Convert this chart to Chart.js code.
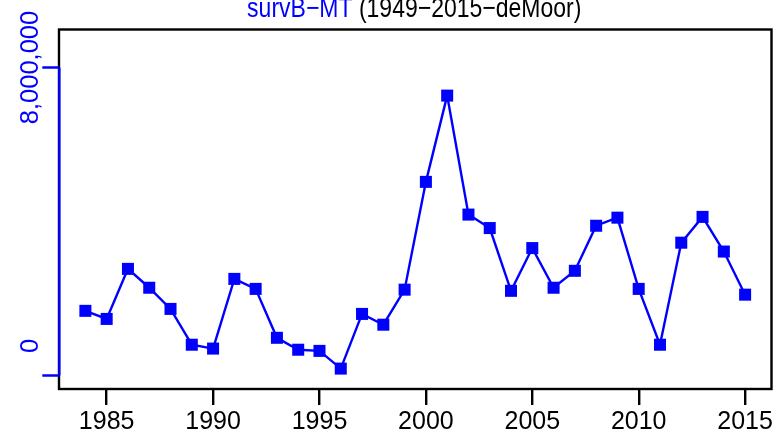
<!DOCTYPE html>
<html>
<head>
<meta charset="utf-8">
<script src="https://cdn.jsdelivr.net/npm/chart.js@4/dist/chart.umd.min.js"></script>
<style>
html,body{margin:0;padding:0;background:#ffffff;}
canvas{display:block;}
</style>
</head>
<body>
<canvas id="c" width="780" height="440"></canvas>
<script>
// ---- data ----
const years = [1984,1985,1986,1987,1988,1989,1990,1991,1992,1993,1994,1995,1996,1997,1998,1999,
               2000,2001,2002,2003,2004,2005,2006,2007,2008,2009,2010,2011,2012,2013,2014,2015];
const survB = [1680000,1470000,2770000,2280000,1730000,800000,700000,2510000,2250000,980000,670000,640000,180000,1600000,1320000,2230000,
               5030000,7270000,4180000,3830000,2200000,3310000,2280000,2720000,3890000,4100000,2250000,800000,3450000,4120000,3220000,2100000];
const xTickValues = [1985,1990,1995,2000,2005,2010,2015];
const yTickValues = [0, 8000000];
const yTickLabels = ['0', '8,000,000'];
const titleSeries = 'survB\u2212MT';
const titleRest = ' (1949\u22122015\u2212deMoor)';

// ---- styling ----
const BLUE = '#0000ff';
const FONT = '"Liberation Sans", Arial, Helvetica, sans-serif';

const decor = {
  id: 'decor',
  afterDraw(chart) {
    const ctx = chart.ctx;
    const a = chart.chartArea;
    const ys = chart.scales.y;
    ctx.save();
    // plot box
    ctx.strokeStyle = '#000';
    ctx.lineWidth = 2.4;
    ctx.strokeRect(a.left, a.top, a.right - a.left, a.bottom - a.top);

    // y axis (blue, only between first and last tick)
    const pix = yTickValues.map(v => ys.getPixelForValue(v));
    const ax = a.left + 0.3;
    ctx.strokeStyle = BLUE;
    ctx.lineWidth = 2.4;
    ctx.beginPath();
    ctx.moveTo(ax, Math.max(...pix));
    ctx.lineTo(ax, Math.min(...pix));
    pix.forEach(p => { ctx.moveTo(ax - 17, p); ctx.lineTo(ax, p); });
    ctx.stroke();

    // y tick labels, rotated
    ctx.fillStyle = BLUE;
    ctx.font = '25.5px ' + FONT;
    ctx.textAlign = 'center';
    ctx.textBaseline = 'alphabetic';
    const shifts = [-29.5, 0];
    yTickLabels.forEach((lab, i) => {
      ctx.save();
      ctx.translate(37.5, pix[i] + shifts[i]);
      ctx.rotate(-Math.PI / 2);
      ctx.fillText(lab, 0, 0);
      ctx.restore();
    });

    // title (cut at top as in reference)
    ctx.font = '23px ' + FONT;
    ctx.textAlign = 'left';
    const w1 = ctx.measureText(titleSeries).width;
    const w2 = ctx.measureText(titleRest).width;
    const tx = (a.left + a.right) / 2 - (w1 + w2) / 2 - 1;
    ctx.save();
    ctx.translate(0, 16.5);
    ctx.scale(1, 1.2);
    ctx.fillStyle = BLUE;
    ctx.fillText(titleSeries, tx, 0);
    ctx.fillStyle = '#000';
    ctx.fillText(titleRest, tx + w1, 0);
    ctx.restore();
    ctx.restore();
  }
};

new Chart(document.getElementById('c'), {
  type: 'line',
  data: {
    datasets: [{
      data: years.map((yr, i) => ({ x: yr, y: survB[i] })),
      borderColor: BLUE,
      backgroundColor: BLUE,
      borderWidth: 2.4,
      tension: 0,
      pointStyle: 'rect',
      pointRadius: 8.5,
      pointBorderWidth: 0,
      pointBackgroundColor: BLUE,
      clip: false
    }]
  },
  options: {
    responsive: false,
    animation: false,
    devicePixelRatio: 1,
    layout: { padding: { left: 59, top: 29.5, right: 7.5, bottom: 0 } },
    plugins: { legend: { display: false }, tooltip: { enabled: false }, title: { display: false } },
    scales: {
      x: {
        type: 'linear',
        position: 'bottom',
        min: 1982.76,
        max: 2016.24,
        afterBuildTicks: s => { s.ticks = xTickValues.map(v => ({ value: v })); },
        afterFit: s => { s.height = 51; },
        grid: { display: true, drawOnChartArea: false, drawTicks: true, tickLength: 16, color: '#000', lineWidth: 2.4 },
        border: { display: false },
        ticks: {
          color: '#000',
          font: { family: FONT, size: 25 },
          padding: 2,
          minRotation: 0,
          maxRotation: 0,
          autoSkip: false,
          callback: v => String(v)
        }
      },
      y: {
        type: 'linear',
        display: false,
        min: -350000,
        max: 8987000
      }
    }
  },
  plugins: [decor]
});
</script>
</body>
</html>
